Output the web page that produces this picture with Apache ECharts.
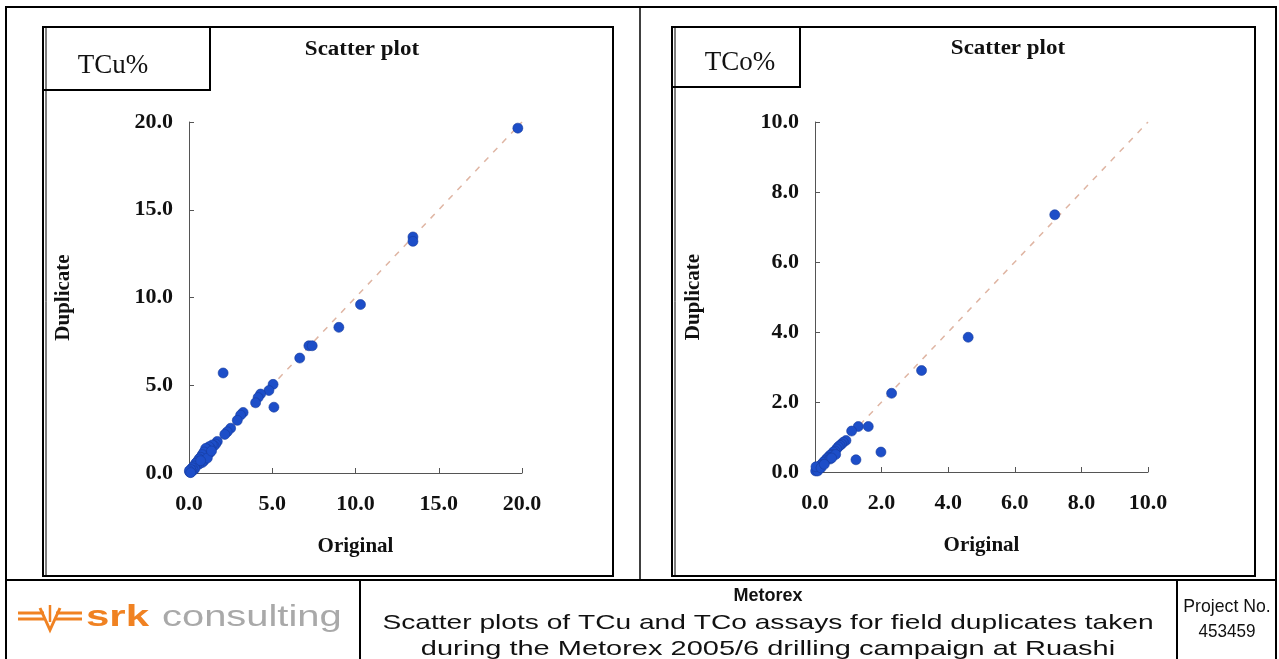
<!DOCTYPE html>
<html>
<head>
<meta charset="utf-8">
<script src="https://cdn.jsdelivr.net/npm/echarts@6/dist/echarts.min.js"></script>
<style>
html,body{margin:0;padding:0;background:#fff;}
#c{width:1279px;height:659px;}
</style>
</head>
<body>
<div id="c"></div>
<script>
// ---------- DATA ----------
const cuTicks = [0, 5, 10, 15, 20];
const coTicks = [0, 2, 4, 6, 8, 10];
const cuOriginal  = [19.75,13.45,13.45,10.3,9.0,7.2,7.4,6.65,2.05,5.05,4.8,5.1,4.3,4.15,4.0,3.25,3.1,2.9,2.5,2.3,2.15,1.7,1.6,1.5,1.4,1.3,1.2,1.1,1.0,1.25,0.9,1.0,0.8,0.7,0.9,0.8,0.6,0.5,0.6,0.45,0.4,0.3,0.35,0.2,0.25,0.15,0.1,0.05,0.02,0.1,1.1,1.35,0.7];
const cuDuplicate = [19.65,13.45,13.2,9.6,8.3,7.25,7.25,6.55,5.7,5.05,4.7,3.75,4.5,4.3,4.0,3.45,3.3,3.0,2.55,2.35,2.2,1.8,1.65,1.55,1.6,1.4,1.5,1.35,1.4,1.15,1.2,0.95,1.05,0.9,0.7,0.6,0.8,0.65,0.5,0.45,0.55,0.4,0.25,0.3,0.15,0.1,0.2,0.05,0.12,0.02,0.85,1.25,0.7];
const coOriginal  = [7.2,4.6,3.2,2.3,1.6,1.3,1.1,1.98,1.23,0.93,0.85,0.8,0.75,0.7,0.65,0.6,0.55,0.5,0.45,0.4,0.35,0.3,0.25,0.2,0.15,0.1,0.05,0.02,0.08,0.03,0.18,0.62,0.45,0.5,0.28];
const coDuplicate = [7.35,3.85,2.9,2.25,1.3,1.3,1.17,0.57,0.35,0.9,0.85,0.8,0.76,0.72,0.66,0.6,0.57,0.5,0.48,0.42,0.38,0.32,0.28,0.22,0.18,0.12,0.08,0.03,0.03,0.15,0.12,0.5,0.37,0.4,0.22];
const cuOneToOne = [0, 20];
const coOneToOne = [0, 10];

// ---------- BUILD ----------
const pairs = (a, b) => a.map((v, i) => [v, b[i]]);
const serif = 'Liberation Serif';
const tickFont = {fontFamily: serif, fontWeight: 'bold', fontSize: 22, color: '#111'};
const nameFont = {fontFamily: serif, fontWeight: 'bold', fontSize: 21, color: '#111'};
const axisLine = {show: true, lineStyle: {color: '#555', width: 1}};
const axisTick = {show: true, inside: true, length: 5, lineStyle: {color: '#555'}};
const fmt = v => v.toFixed(1);

function xAxis(idx, max, interval) {
  return {
    gridIndex: idx, type: 'value', min: 0, max: max, interval: interval,
    name: 'Original', nameLocation: 'middle', nameGap: 63, nameTextStyle: nameFont,
    axisLine: axisLine, axisTick: axisTick, splitLine: {show: false},
    axisLabel: Object.assign({formatter: fmt, margin: 20}, tickFont)
  };
}
function yAxis(idx, max, interval, gap) {
  return {
    gridIndex: idx, type: 'value', min: 0, max: max, interval: interval,
    name: 'Duplicate', nameLocation: 'middle', nameGap: gap, nameRotate: 90, nameTextStyle: nameFont,
    axisLine: axisLine, axisTick: axisTick, splitLine: {show: false},
    axisLabel: Object.assign({formatter: fmt, margin: 16}, tickFont)
  };
}
const pointStyle = {color: '#1d4ec8', borderColor: '#173c9e', borderWidth: 0.6, opacity: 1};
const dashStyle = {color: '#dfb5a3', width: 1.5, type: [6, 7]};

function rect(x1, y1, x2, y2, lw) {
  return {type: 'rect', shape: {x: x1, y: y1, width: x2 - x1, height: y2 - y1}, style: {stroke: '#000', lineWidth: lw || 2, fill: null}, silent: true};
}
function line(x1, y1, x2, y2, lw, color) {
  return {type: 'line', shape: {x1, y1, x2, y2}, style: {stroke: color || '#000', lineWidth: lw || 2}, silent: true};
}
function text(x, y, str, font, opts) {
  opts = opts || {};
  return {type: 'text', x: x, y: y, scaleX: opts.sx || 1, silent: true,
    style: Object.assign({text: str, x: 0, y: 0, align: opts.align || 'center', verticalAlign: 'middle', fill: opts.fill || '#111'}, font)};
}
const orange = '#f08222';
const sans = 'Liberation Sans';

const option = {
  backgroundColor: '#fff',
  animation: false,
  grid: [
    {left: 189, top: 122, width: 333, height: 351},
    {left: 815, top: 122, width: 333, height: 350}
  ],
  xAxis: [xAxis(0, cuTicks[cuTicks.length - 1], cuTicks[1] - cuTicks[0]), xAxis(1, coTicks[coTicks.length - 1], coTicks[1] - coTicks[0])],
  yAxis: [yAxis(0, cuTicks[cuTicks.length - 1], cuTicks[1] - cuTicks[0], 115), yAxis(1, coTicks[coTicks.length - 1], coTicks[1] - coTicks[0], 111)],
  series: [
    {type: 'line', xAxisIndex: 0, yAxisIndex: 0, data: pairs(cuOneToOne, cuOneToOne), symbol: 'none', lineStyle: dashStyle, z: 1, silent: true},
    {type: 'scatter', xAxisIndex: 0, yAxisIndex: 0, data: pairs(cuOriginal, cuDuplicate), symbolSize: 10, itemStyle: pointStyle, z: 3},
    {type: 'line', xAxisIndex: 1, yAxisIndex: 1, data: pairs(coOneToOne, coOneToOne), symbol: 'none', lineStyle: dashStyle, z: 1, silent: true},
    {type: 'scatter', xAxisIndex: 1, yAxisIndex: 1, data: pairs(coOriginal, coDuplicate), symbolSize: 10, itemStyle: pointStyle, z: 3}
  ],
  graphic: [
    // outer frame
    rect(6, 7, 1276, 700, 2),
    line(6, 580, 1276, 580, 2),
    line(640, 7, 640, 580, 1.5),
    line(360, 580, 360, 659, 2),
    line(1177, 580, 1177, 659, 2),
    // panels
    rect(43, 27, 613, 576, 2),
    line(46, 27, 46, 576, 1),
    rect(43, 27, 210, 90, 2),
    rect(672, 27, 1255, 576, 2),
    line(675, 27, 675, 576, 1),
    rect(672, 27, 800, 87, 2),
    text(113, 66, 'TCu%', {fontFamily: serif, fontSize: 27}),
    text(740, 63, 'TCo%', {fontFamily: serif, fontSize: 27}),
    text(362, 50, 'Scatter plot', {fontFamily: serif, fontSize: 20, fontWeight: 'bold'}, {sx: 1.15}),
    text(1008, 49, 'Scatter plot', {fontFamily: serif, fontSize: 20, fontWeight: 'bold'}, {sx: 1.15}),
    // footer
    text(768, 596, 'Metorex', {fontFamily: sans, fontSize: 18, fontWeight: 'bold'}),
    text(768, 623, 'Scatter plots of TCu and TCo assays for field duplicates taken', {fontFamily: sans, fontSize: 21}, {sx: 1.34}),
    text(768, 649, 'during the Metorex 2005/6 drilling campaign at Ruashi', {fontFamily: sans, fontSize: 21}, {sx: 1.38}),
    text(1227, 607, 'Project No.', {fontFamily: sans, fontSize: 19}, {sx: 0.93}),
    text(1227, 632, '453459', {fontFamily: sans, fontSize: 19}, {sx: 0.9}),
    // logo
    line(18, 613, 44, 613, 3, orange),
    line(18, 619, 44, 619, 3, orange),
    line(56, 613, 82, 613, 3, orange),
    line(56, 619, 82, 619, 3, orange),
    {type: 'polyline', shape: {points: [[40, 608], [50, 630], [60, 608]]}, style: {stroke: orange, lineWidth: 3, fill: null}, silent: true},
    line(50, 605, 50, 622, 2.5, orange),
    text(86, 618, 'srk', {fontFamily: sans, fontSize: 30, fontWeight: 'bold'}, {align: 'left', fill: orange, sx: 1.4}),
    text(162, 618, 'consulting', {fontFamily: sans, fontSize: 30}, {align: 'left', fill: '#a9a9a9', sx: 1.33})
  ]
};
const chart = echarts.init(document.getElementById('c'), null, {renderer: 'canvas'});
chart.setOption(option);
</script>
</body>
</html>
